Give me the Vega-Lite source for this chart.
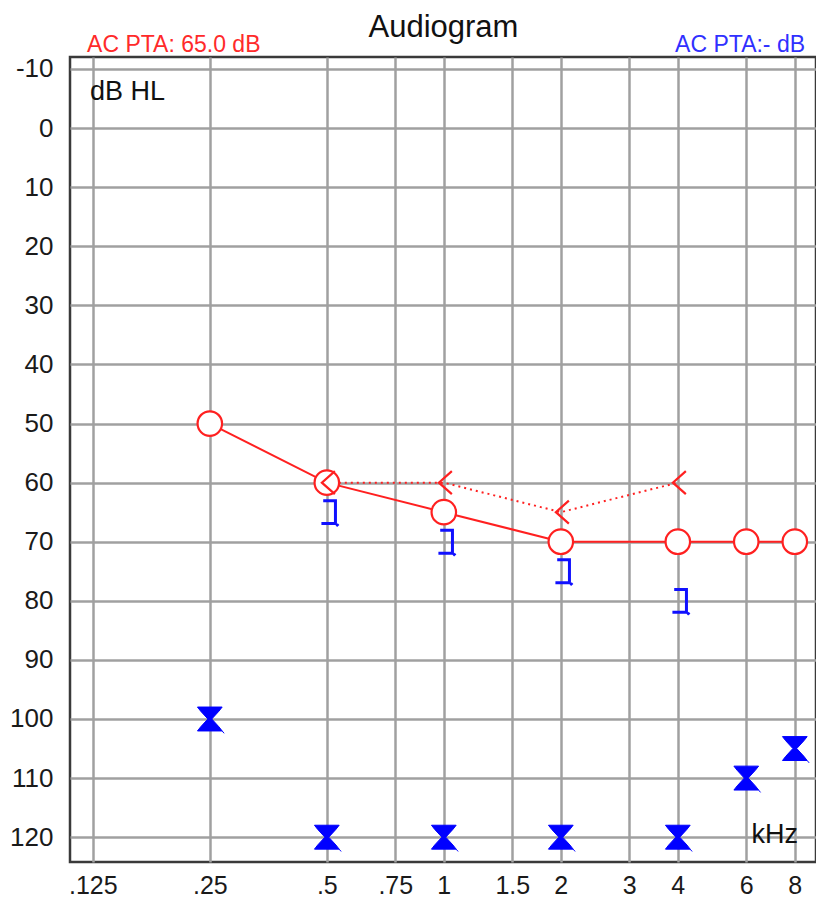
{
  "$schema": "https://vega.github.io/schema/vega-lite/v6.json",
  "width": 746,
  "height": 805,
  "autosize": {"type": "none"},
  "padding": {"left": 70, "top": 57, "right": 0, "bottom": 39},
  "background": "white",
  "config": {
    "view": {"stroke": "#3a3a3a", "strokeWidth": 2.5},
    "axis": {
      "title": null,
      "grid": true,
      "gridColor": "#a0a0a0",
      "gridWidth": 2.5,
      "ticks": false,
      "tickSize": 0,
      "domain": false,
      "labelFont": "Liberation Sans",
      "labelFontSize": 26,
      "labelColor": "#1a1a1a",
      "labelFlush": false,
      "labelOverlap": false
    }
  },
  "datasets": {
    "ac_right": [
      {"freq": 0.25, "db": 50}, {"freq": 0.5, "db": 60}, {"freq": 1, "db": 65},
      {"freq": 2, "db": 70}, {"freq": 4, "db": 70}, {"freq": 6, "db": 70}, {"freq": 8, "db": 70}
    ],
    "bc_right": [
      {"freq": 0.5, "db": 60}, {"freq": 1, "db": 60}, {"freq": 2, "db": 65}, {"freq": 4, "db": 60}
    ],
    "bc_left": [
      {"freq": 0.5, "db": 65}, {"freq": 1, "db": 70}, {"freq": 2, "db": 75}, {"freq": 4, "db": 80}
    ],
    "ac_left": [
      {"freq": 0.25, "db": 100}, {"freq": 0.5, "db": 120}, {"freq": 1, "db": 120},
      {"freq": 2, "db": 120}, {"freq": 4, "db": 120}, {"freq": 6, "db": 110}, {"freq": 8, "db": 105}
    ]
  },
  "layer": [
    {
      "data": {"name": "ac_right"},
      "mark": {"type": "line", "color": "#ff2020", "strokeWidth": 2},
      "encoding": {
        "x": {
          "field": "freq", "type": "quantitative",
          "scale": {"type": "log", "domain": [0.1092, 9.07], "nice": false},
          "axis": {
            "values": [0.125, 0.25, 0.5, 0.75, 1, 1.5, 2, 3, 4, 6, 8],
            "labelExpr": "datum.value < 1 ? substring(toString(datum.value), 1) : toString(datum.value)",
            "labelPadding": 11,
            "labelFontSize": 25,
            "labelBaseline": "top"
          }
        },
        "y": {
          "field": "db", "type": "quantitative",
          "scale": {"domain": [-12.03, 124.2], "reverse": true, "nice": false, "zero": false},
          "axis": {
            "values": [-10, 0, 10, 20, 30, 40, 50, 60, 70, 80, 90, 100, 110, 120],
            "labelExpr": "toString(datum.value)",
            "labelPadding": 17,
            "labelBaseline": "middle"
          }
        }
      }
    },
    {
      "data": {"name": "bc_right"},
      "mark": {"type": "line", "color": "#ff2020", "strokeWidth": 2, "strokeDash": [2, 4]},
      "encoding": {
        "x": {"field": "freq", "type": "quantitative"},
        "y": {"field": "db", "type": "quantitative"}
      }
    },
    {
      "data": {"name": "ac_right"},
      "mark": {"type": "point", "shape": "circle", "filled": true, "fill": "white", "fillOpacity": 1, "stroke": "#ff2020", "strokeWidth": 2.2, "size": 600, "opacity": 1},
      "encoding": {
        "x": {"field": "freq", "type": "quantitative"},
        "y": {"field": "db", "type": "quantitative"}
      }
    },
    {
      "data": {"name": "bc_right"},
      "mark": {"type": "point", "shape": "M 0.7 -1 L -0.43 0 L 0.7 1", "filled": false, "stroke": "#ff2020", "strokeWidth": 2.2, "size": 529, "opacity": 1},
      "encoding": {
        "x": {"field": "freq", "type": "quantitative"},
        "y": {"field": "db", "type": "quantitative"}
      }
    },
    {
      "data": {"name": "bc_left"},
      "mark": {"type": "point", "shape": "M -0.3 -0.95 L 0.72 -0.95 L 0.72 0.95 L -0.45 0.95 M 0.82 1.0 L 0.95 1.15", "filled": false, "stroke": "#1010ff", "strokeWidth": 3, "size": 576, "opacity": 1},
      "encoding": {
        "x": {"field": "freq", "type": "quantitative"},
        "y": {"field": "db", "type": "quantitative"}
      }
    },
    {
      "data": {"name": "ac_left"},
      "mark": {"type": "point", "shape": "M -0.95 -0.92 L 0.95 -0.92 L 0.7 -0.6 L 0.15 0 L 0.7 0.6 L 0.95 0.92 L -0.95 0.92 L -0.7 0.6 L -0.15 0 L -0.7 -0.6 Z M 0.95 0.92 L 1.1 1.1", "filled": true, "fill": "#0000ff", "stroke": "#0000ff", "strokeWidth": 1, "size": 676, "opacity": 1},
      "encoding": {
        "x": {"field": "freq", "type": "quantitative"},
        "y": {"field": "db", "type": "quantitative"}
      }
    },
    {
      "data": {"values": [{"label": "Audiogram"}]},
      "mark": {"type": "text", "font": "Liberation Sans", "fontSize": 31, "color": "#111", "align": "center", "baseline": "alphabetic"},
      "encoding": {
        "x": {"datum": 0.998, "type": "quantitative"},
        "y": {"datum": -15.4, "type": "quantitative"},
        "text": {"field": "label"}
      }
    },
    {
      "data": {"values": [{"label": "AC PTA: 65.0 dB"}]},
      "mark": {"type": "text", "font": "Liberation Sans", "fontSize": 23, "color": "#ff2a2a", "align": "left", "baseline": "alphabetic"},
      "encoding": {
        "x": {"datum": 0.1208, "type": "quantitative"},
        "y": {"datum": -12.9, "type": "quantitative"},
        "text": {"field": "label"}
      }
    },
    {
      "data": {"values": [{"label": "AC PTA:- dB"}]},
      "mark": {"type": "text", "font": "Liberation Sans", "fontSize": 23, "color": "#3030ff", "align": "right", "baseline": "alphabetic"},
      "encoding": {
        "x": {"datum": 8.5, "type": "quantitative"},
        "y": {"datum": -12.9, "type": "quantitative"},
        "text": {"field": "label"}
      }
    },
    {
      "data": {"values": [{"label": "dB HL"}]},
      "mark": {"type": "text", "font": "Liberation Sans", "fontSize": 27, "color": "#111", "align": "left", "baseline": "alphabetic"},
      "encoding": {
        "x": {"datum": 0.1229, "type": "quantitative"},
        "y": {"datum": -4.75, "type": "quantitative"},
        "text": {"field": "label"}
      }
    },
    {
      "data": {"values": [{"label": "kHz"}]},
      "mark": {"type": "text", "font": "Liberation Sans", "fontSize": 27, "color": "#111", "align": "right", "baseline": "alphabetic"},
      "encoding": {
        "x": {"datum": 8.15, "type": "quantitative"},
        "y": {"datum": 121.0, "type": "quantitative"},
        "text": {"field": "label"}
      }
    }
  ]
}
